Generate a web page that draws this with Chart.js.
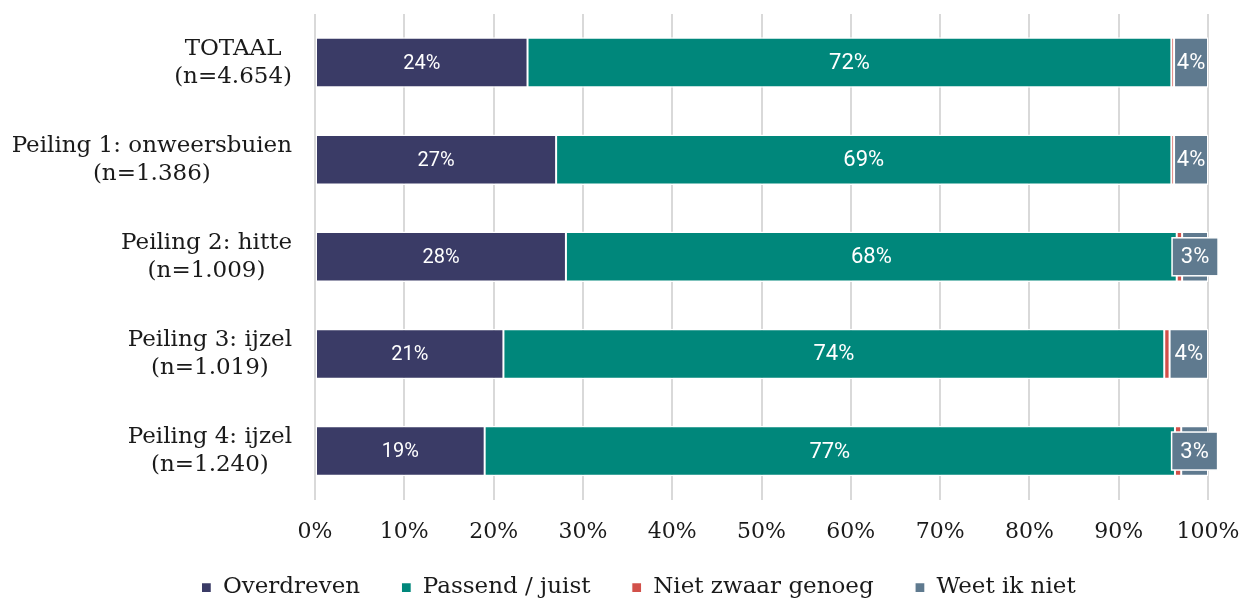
<!DOCTYPE html>
<html>
<head>
<meta charset="utf-8">
<script src="https://cdn.jsdelivr.net/npm/chart.js@4.4.1/dist/chart.umd.min.js"></script>
<style>
  html, body { margin: 0; padding: 0; background: #fff; }
  #wrap { width: 1243px; height: 601px; position: relative; }
</style>
</head>
<body>
<div id="wrap"><canvas id="chart"></canvas></div>
<script>
// categories (two lines each) and the four answer series, in %
const categories = [
    ['TOTAAL', '(n=4.654)'],
    ['Peiling 1: onweersbuien', '(n=1.386)'],
    ['Peiling 2: hitte', '(n=1.009)'],
    ['Peiling 3: ijzel', '(n=1.019)'],
    ['Peiling 4: ijzel', '(n=1.240)']
]
const overdreven = [23.8, 27.0, 28.1, 21.1, 19.0]
const passend = [72.1, 68.9, 68.4, 74.0, 77.3]
const nietZwaar = [0.3, 0.3, 0.6, 0.6, 0.7]
const weetNiet = [3.8, 3.8, 2.9, 4.3, 3.0]
const xTicks = [0, 10, 20, 30, 40, 50, 60, 70, 80, 90, 100]

const SERIF = '"DejaVu Serif", "Liberation Serif", serif'
const SANS = 'Roboto, "Open Sans", sans-serif'
const TEXT = '#1a1a1a'

const series = [
    { label: 'Overdreven', data: overdreven, color: '#3a3b66', labelSize: 20 },
    { label: 'Passend / juist', data: passend, color: '#00877b', labelSize: 22 },
    { label: 'Niet zwaar genoeg', data: nietZwaar, color: '#d2504a', labelSize: 0 },
    { label: 'Weet ik niet', data: weetNiet, color: '#5f7a8f', labelSize: 22 }
]

// draws the % labels inside the segments, with a boxed label when it doesn't fit
const segmentLabels = {
    id: 'segmentLabels',
    afterDatasetsDraw(chart) {
        const ctx = chart.ctx
        chart.data.datasets.forEach((ds, di) => {
            const size = series[di].labelSize
            if (!size) return
            chart.getDatasetMeta(di).data.forEach((bar, i) => {
                const txt = Math.round(ds.data[i]) + '%'
                const left = Math.min(bar.x, bar.base), right = Math.max(bar.x, bar.base)
                const cx = (left + right) / 2, cy = bar.y
                ctx.save()
                ctx.font = size + 'px ' + SANS
                ctx.textAlign = 'center'
                ctx.textBaseline = 'middle'
                const w = ctx.measureText(txt).width
                if (w + 4 > right - left) {
                    const bw = 46, bh = 38
                    ctx.fillStyle = ds.backgroundColor
                    ctx.fillRect(cx - bw / 2, cy - bh / 2, bw, bh)
                    ctx.strokeStyle = '#ffffff'
                    ctx.lineWidth = 1.5
                    ctx.strokeRect(cx - bw / 2, cy - bh / 2, bw, bh)
                }
                ctx.fillStyle = '#ffffff'
                ctx.fillText(txt, cx, cy + 1)
                ctx.restore()
            })
        })
    }
}

// category labels: block right aligned, lines centred on each other
const categoryLabels = {
    id: 'categoryLabels',
    afterDraw(chart) {
        const ctx = chart.ctx
        const yScale = chart.scales.y
        const rightEdge = chart.chartArea.left - 23
        ctx.save()
        ctx.font = '23px ' + SERIF
        ctx.fillStyle = TEXT
        ctx.textAlign = 'center'
        ctx.textBaseline = 'middle'
        categories.forEach((lines, i) => {
            const y = yScale.getPixelForValue(i)
            const blockW = Math.max(...lines.map(l => ctx.measureText(l).width))
            const cx = rightEdge - blockW / 2
            lines.forEach((l, k) => {
                ctx.fillText(l, cx, y + (k - (lines.length - 1) / 2) * 28)
            })
        })
        ctx.restore()
    }
}

new Chart(document.getElementById('chart'), {
    type: 'bar',
    data: {
        labels: categories.map(c => c.join(' ')),
        datasets: series.map(s => ({
            label: s.label,
            data: s.data,
            backgroundColor: s.color,
            borderColor: '#ffffff',
            borderWidth: { top: 1.5, bottom: 1.5, left: 1, right: 1 },
            borderSkipped: false,
            categoryPercentage: 1,
            barPercentage: 0.52
        }))
    },
    options: {
        indexAxis: 'y',
        responsive: true,
        maintainAspectRatio: false,
        animation: false,
        layout: { padding: { left: 34, right: 0, top: 14, bottom: -8 } },
        scales: {
            x: {
                stacked: true,
                min: 0,
                max: 100,
                afterBuildTicks: (axis) => { axis.ticks = xTicks.map(v => ({ value: v })) },
                afterFit: (axis) => { axis.paddingLeft = 0; axis.paddingRight = 35 },
                ticks: {
                    callback: (v) => v + '%',
                    color: TEXT,
                    font: { family: SERIF, size: 22 },
                    padding: 19,
                    maxRotation: 0
                },
                grid: { color: '#d9d9d9', lineWidth: 2, drawTicks: false },
                border: { display: false }
            },
            y: {
                stacked: true,
                ticks: { display: false },
                grid: { display: false },
                border: { display: false },
                // room for the two-line category labels drawn by the plugin
                afterFit: (axis) => { axis.width = 281 }
            }
        },
        plugins: {
            legend: {
                position: 'bottom',
                labels: {
                    color: TEXT,
                    font: { family: SERIF, size: 23 },
                    boxWidth: 10,
                    boxHeight: 10,
                    padding: 12,
                    // extra spacing between items, last one without
                    generateLabels: (chart) => Chart.defaults.plugins.legend.labels.generateLabels(chart)
                        .map((it, i, arr) => Object.assign(it, { text: i < arr.length - 1 ? it.text + '    ' : it.text }))
                }
            },
            tooltip: { enabled: false }
        }
    },
    plugins: [segmentLabels, categoryLabels]
})
</script>
</body>
</html>
